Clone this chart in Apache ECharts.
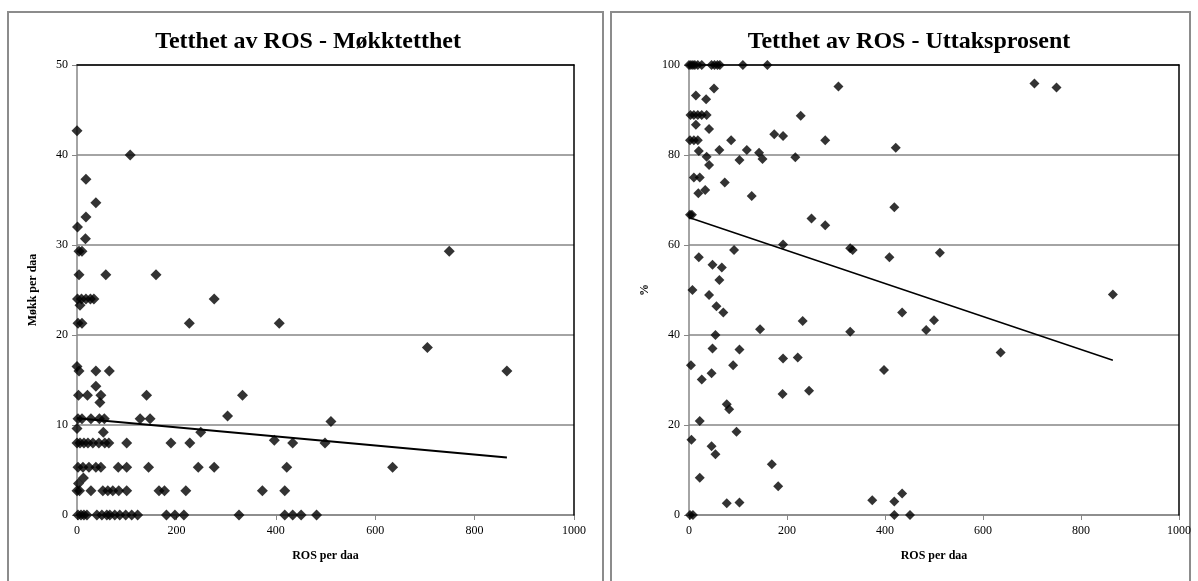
<!DOCTYPE html>
<html>
<head>
<meta charset="utf-8">
<script src="https://cdn.jsdelivr.net/npm/echarts@6/dist/echarts.min.js"></script>
<style>
html,body{margin:0;padding:0;background:#fff;}
#chart{width:1198px;height:581px;}
</style>
</head>
<body>
<div id="chart"></div>
<script>
// ---- Data: left chart "Tetthet av ROS - Møkktetthet" ----
const leftTitle = 'Tetthet av ROS - Møkktetthet';
const leftXName = 'ROS per daa';
const leftYName = 'Møkk per daa';
const leftXTicks = [0, 200, 400, 600, 800, 1000];
const leftYTicks = [0, 10, 20, 30, 40, 50];
const leftROS = [
  0, 107, 18, 38, 18, 1, 17,
  4, 10, 749,
  4, 58, 159,
  1, 9, 18, 27, 34, 276,
  6,
  2, 10, 226, 407,
  705,
  0, 4, 38, 65, 865,
  38,
  3, 21, 48, 140, 333,
  46, 303,
  2, 10, 28, 45, 55, 127, 147,
  511, 0, 53, 249, 397,
  0, 6, 14, 22, 32, 44, 56, 64, 100, 189, 227, 434, 499,
  2, 12, 24, 38, 48, 83, 100, 144, 244, 276, 422, 635,
  13, 3,
  0, 5, 28, 52, 62, 72, 84, 100, 165, 176, 219, 373, 418,
  2, 8, 14, 20, 40, 50, 60, 66, 76, 86, 98, 110, 122, 180, 197, 215, 326, 418, 434, 451, 482
];
const leftMokk = [
  42.7, 40, 37.3, 34.7, 33.1, 32, 30.7,
  29.3, 29.3, 29.3,
  26.7, 26.7, 26.7,
  24, 24, 24, 24, 24, 24,
  23.3,
  21.3, 21.3, 21.3, 21.3,
  18.6,
  16.5, 16, 16, 16, 16,
  14.3,
  13.3, 13.3, 13.3, 13.3, 13.3,
  12.5, 11,
  10.7, 10.7, 10.7, 10.7, 10.7, 10.7, 10.7,
  10.4, 9.6, 9.2, 9.2, 8.3,
  8, 8, 8, 8, 8, 8, 8, 8, 8, 8, 8, 8, 8,
  5.3, 5.3, 5.3, 5.3, 5.3, 5.3, 5.3, 5.3, 5.3, 5.3, 5.3, 5.3,
  4.1, 3.5,
  2.7, 2.7, 2.7, 2.7, 2.7, 2.7, 2.7, 2.7, 2.7, 2.7, 2.7, 2.7, 2.7,
  0, 0, 0, 0, 0, 0, 0, 0, 0, 0, 0, 0, 0, 0, 0, 0, 0, 0, 0, 0, 0
];
const leftTrendX = [0, 865];
const leftTrendY = [10.75, 6.4];

// ---- Data: right chart "Tetthet av ROS - Uttaksprosent" ----
const rightTitle = 'Tetthet av ROS - Uttaksprosent';
const rightXName = 'ROS per daa';
const rightYName = '%';
const rightXTicks = [0, 200, 400, 600, 800, 1000];
const rightYTicks = [0, 20, 40, 60, 80, 100];
const rightROS = [
  0, 4, 8, 12, 18, 26, 46, 52, 58, 63, 110, 160,
  14, 35, 51, 705, 750, 305,
  3, 10, 18, 26, 36, 228,
  14, 41,
  2, 10, 18, 86, 278,
  174, 192, 20, 62, 118, 143, 36, 103, 150, 217, 422, 41,
  10, 22,
  73, 19, 33, 128,
  2, 6,
  419, 250, 278,
  192, 329, 334, 92, 409, 512,
  20, 48, 67, 62, 7, 41, 865,
  56, 70, 435, 500, 232, 145, 329, 484, 54,
  48, 103, 636, 192, 222, 4,
  90, 398, 46, 26, 245, 191, 77, 82, 22, 97, 5, 46, 54, 169, 22, 182,
  374, 419, 435, 77, 103, 2, 8, 419, 451
];
const rightPct = [
  100, 100, 100, 100, 100, 100, 100, 100, 100, 100, 100, 100,
  93.2, 92.4, 94.8, 95.9, 95.0, 95.2,
  88.9, 88.9, 88.9, 88.9, 88.9, 88.7,
  86.7, 85.8,
  83.3, 83.3, 83.3, 83.3, 83.3,
  84.6, 84.2, 80.9, 81.1, 81.1, 80.5, 79.6, 78.9, 79.1, 79.5, 81.6, 77.8,
  75, 75,
  73.9, 71.5, 72.2, 70.9,
  66.7, 66.7,
  68.4, 65.9, 64.4,
  60.1, 59.3, 58.9, 58.9, 57.3, 58.3,
  57.3, 55.6, 55, 52.2, 50, 48.9, 49,
  46.4, 45, 45, 43.3, 43.1, 41.3, 40.7, 41.1, 40,
  37, 36.8, 36.1, 34.8, 35, 33.3,
  33.3, 32.2, 31.5, 30.1, 27.6, 26.9, 24.6, 23.5, 20.9, 18.5, 16.7, 15.3, 13.5, 11.3, 8.3, 6.4,
  3.3, 3.0, 4.8, 2.6, 2.8, 0, 0, 0, 0
];
const rightTrendX = [0, 865];
const rightTrendY = [66.1, 34.4];

// ---- Build ----
function pairs(xs, ys) { return xs.map((x, i) => [x, ys[i]]); }
const SERIF = '"Liberation Serif", "Times New Roman", serif';
const GRID_GREY = '#868686';

function axesFor(gi, xTicks, yTicks, xName, yName, yNameGap) {
  const xMin = xTicks[0], xMax = xTicks[xTicks.length - 1];
  const yMin = yTicks[0], yMax = yTicks[yTicks.length - 1];
  const xInt = xTicks[1] - xTicks[0], yInt = yTicks[1] - yTicks[0];
  return {
    x: [{
      gridIndex: gi, type: 'value', min: xMin, max: xMax, interval: xInt,
      name: xName, nameLocation: 'middle', nameGap: 35,
      nameTextStyle: { fontFamily: SERIF, fontWeight: 'bold', fontSize: 12, color: '#000' },
      axisLine: { show: true, onZero: false, lineStyle: { color: GRID_GREY, width: 1.5 } },
      axisTick: { show: true, length: 5, lineStyle: { color: GRID_GREY } },
      axisLabel: { fontFamily: SERIF, fontSize: 12, color: '#000', margin: 10,
        formatter: v => String(v) },
      splitLine: { show: false }
    }, {
      gridIndex: gi, type: 'value', min: xMin, max: xMax, position: 'top', z: 5,
      axisLine: { show: true, onZero: false, lineStyle: { color: '#000', width: 1.5 } },
      axisTick: { show: false }, axisLabel: { show: false }, splitLine: { show: false }
    }],
    y: [{
      gridIndex: gi, type: 'value', min: yMin, max: yMax, interval: yInt,
      name: yName, nameLocation: 'middle', nameGap: yNameGap,
      nameTextStyle: { fontFamily: SERIF, fontWeight: 'bold', fontSize: 12, color: '#000' },
      axisLine: { show: true, onZero: false, lineStyle: { color: GRID_GREY, width: 1.5 } },
      axisTick: { show: true, length: 5, lineStyle: { color: GRID_GREY } },
      axisLabel: { fontFamily: SERIF, fontSize: 12, color: '#000', margin: 9,
        formatter: v => String(v) },
      splitLine: { show: true, lineStyle: { color: GRID_GREY, width: 1.5 } }
    }, {
      gridIndex: gi, type: 'value', min: yMin, max: yMax, position: 'right', z: 5,
      axisLine: { show: true, onZero: false, lineStyle: { color: '#000', width: 1.5 } },
      axisTick: { show: false }, axisLabel: { show: false }, splitLine: { show: false }
    }]
  };
}

const A = axesFor(0, leftXTicks, leftYTicks, leftXName, leftYName, 38);
const B = axesFor(1, rightXTicks, rightYTicks, rightXName, rightYName, 38);

const chart = echarts.init(document.getElementById('chart'), null, { renderer: 'canvas' });
chart.setOption({
  animation: false,
  backgroundColor: '#fff',
  title: [
    { text: leftTitle, left: 303, top: 25, textAlign: 'center',
      textStyle: { fontFamily: SERIF, fontWeight: 'bold', fontSize: 24, color: '#000' } },
    { text: rightTitle, left: 904, top: 25, textAlign: 'center',
      textStyle: { fontFamily: SERIF, fontWeight: 'bold', fontSize: 24, color: '#000' } }
  ],
  graphic: [
    { type: 'rect', shape: { x: 8, y: 12, width: 595, height: 600 },
      style: { fill: 'none', stroke: '#8c8c8c', lineWidth: 2 }, silent: true, z: -10 },
    { type: 'rect', shape: { x: 611, y: 12, width: 579, height: 600 },
      style: { fill: 'none', stroke: '#8c8c8c', lineWidth: 2 }, silent: true, z: -10 }
  ],
  grid: [
    { left: 77, top: 65, width: 497, height: 450 },
    { left: 689, top: 65, width: 490, height: 450 }
  ],
  xAxis: [A.x[0], A.x[1], B.x[0], B.x[1]],
  yAxis: [A.y[0], A.y[1], B.y[0], B.y[1]],
  series: [
    { type: 'scatter', xAxisIndex: 0, yAxisIndex: 0, symbol: 'diamond', symbolSize: 11,
      itemStyle: { color: '#000' }, data: pairs(leftROS, leftMokk), z: 3 },
    { type: 'line', xAxisIndex: 0, yAxisIndex: 0, symbol: 'none',
      lineStyle: { color: '#000', width: 2 }, data: pairs(leftTrendX, leftTrendY), z: 4 },
    { type: 'scatter', xAxisIndex: 2, yAxisIndex: 2, symbol: 'diamond', symbolSize: 10,
      itemStyle: { color: '#000' }, data: pairs(rightROS, rightPct), z: 3 },
    { type: 'line', xAxisIndex: 2, yAxisIndex: 2, symbol: 'none',
      lineStyle: { color: '#000', width: 1.5 }, data: pairs(rightTrendX, rightTrendY), z: 4 }
  ]
});
</script>
</body>
</html>
